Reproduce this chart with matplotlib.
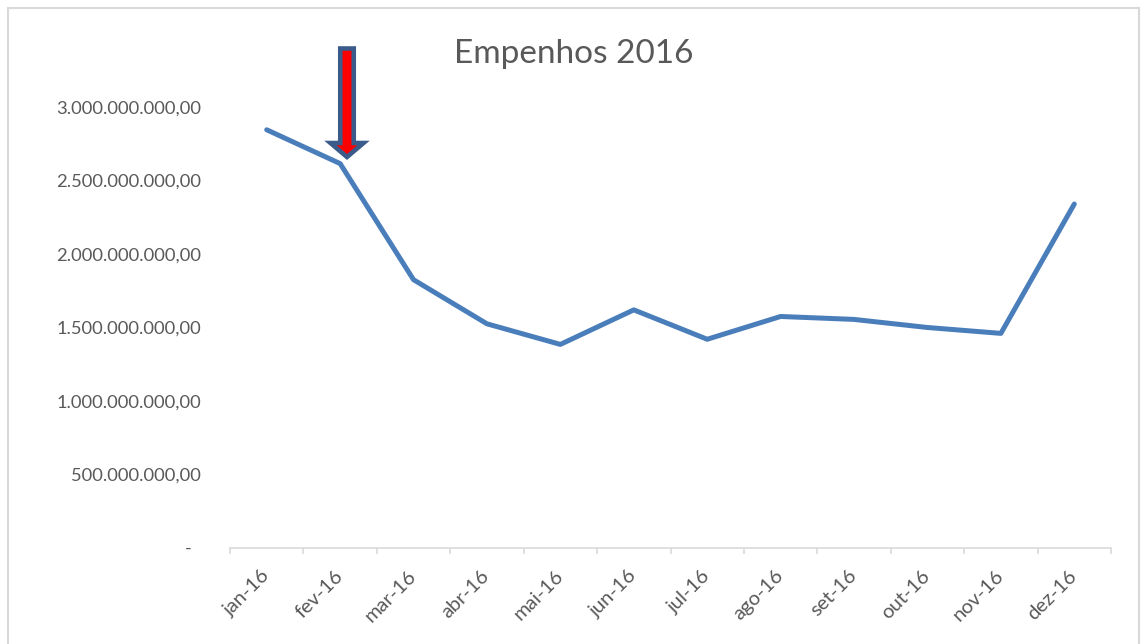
import numpy as np
import matplotlib
matplotlib.use('Agg')
import matplotlib.pyplot as plt
from matplotlib.patches import FancyArrow, Rectangle
from matplotlib.ticker import FuncFormatter, FixedLocator

plt.rcParams['font.family'] = ['Lato', 'DejaVu Sans']

#Data
months = ['jan-16', 'fev-16', 'mar-16', 'abr-16', 'mai-16', 'jun-16',
          'jul-16', 'ago-16', 'set-16', 'out-16', 'nov-16', 'dez-16']
empenhos = [2.845e9, 2.615e9, 1.825e9, 1.525e9, 1.385e9, 1.62e9,
            1.42e9, 1.575e9, 1.555e9, 1.50e9, 1.46e9, 2.34e9]
yTicks = [0, 0.5e9, 1.0e9, 1.5e9, 2.0e9, 2.5e9, 3.0e9]
title = 'Empenhos 2016'

textColor = '#595959'
axisColor = '#D9D9D9'
lineColor = '#4A7EBB'
W, H = 1142, 644

def BrFormat(v, pos):
    if v == 0:
        return '-  '
    s = '{:,.2f}'.format(v)
    return s.replace(',', 'X').replace('.', ',').replace('X', '.')

fig = plt.figure(figsize=(W/100, H/100), dpi=100)
ax = fig.add_axes([230/W, 1-548/H, (1111-230)/W, (548-107)/H])

x = np.arange(len(months))
ax.plot(x, empenhos, color=lineColor, linewidth=3.6, solid_capstyle='round',
        solid_joinstyle='round', clip_on=False)

ax.set_xlim(-0.5, len(months)-0.5)
ax.set_ylim(0, 3.0e9)
ax.set_yticks(yTicks)
ax.yaxis.set_major_formatter(FuncFormatter(BrFormat))
ax.tick_params(axis='y', length=0, pad=21, labelsize=13.2, labelcolor=textColor)

ax.set_xticks(x)
ax.set_xticklabels(months, rotation=45, ha='right', va='center', rotation_mode='anchor')
ax.xaxis.set_minor_locator(FixedLocator(np.arange(-0.5, len(months), 1.0)))
ax.tick_params(axis='x', which='major', length=0, pad=18, labelsize=14.5, labelcolor=textColor)
ax.tick_params(axis='x', which='minor', length=4.5, width=1.2, color=axisColor, direction='out')

for side in ['left', 'right', 'top']:
    ax.spines[side].set_visible(False)
ax.spines['bottom'].set_color(axisColor)
ax.spines['bottom'].set_linewidth(1.2)

fig.text(574/W, 1-63/H, title, ha='center', va='baseline', fontsize=24, color=textColor)

#Arrow pointing at fev-16
arrow = FancyArrow(347/W, 1-48.5/H, 0, -(157-48.5)/H, width=13.5/W, head_width=33/W,
                   head_length=14/H, length_includes_head=True, facecolor='red',
                   edgecolor='#3B5B8A', linewidth=3.3, joinstyle='miter',
                   transform=fig.transFigure)
fig.add_artist(arrow)

#Chart border
fig.add_artist(Rectangle((8/W, -0.02), (1139-8)/W, 1.02-8/H, fill=False,
                         edgecolor=axisColor, linewidth=1.5, transform=fig.transFigure))

fig.savefig('out.png', dpi=100)
